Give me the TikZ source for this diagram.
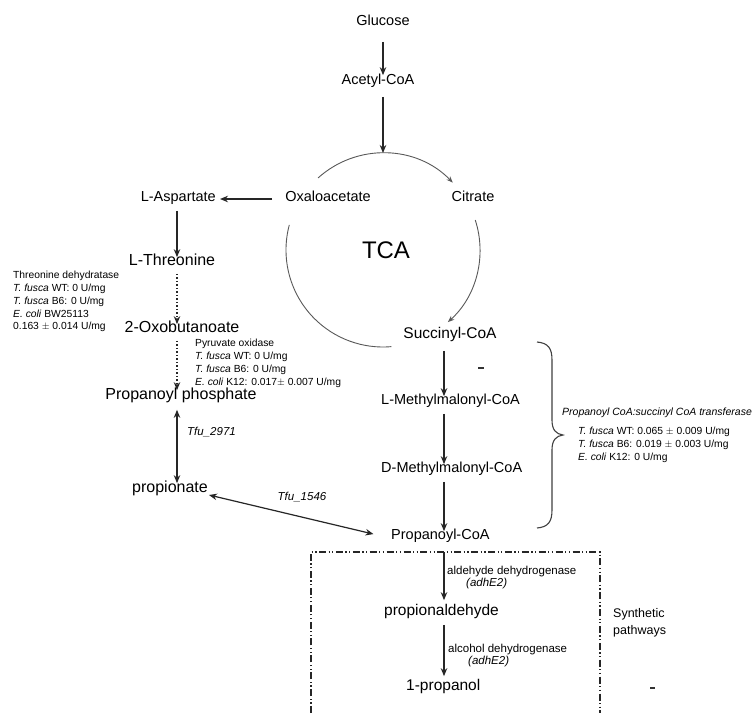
\documentclass[tikz,border=0pt]{standalone}
\usepackage{fontspec}
\setmainfont{Liberation Sans}
\usetikzlibrary{arrows.meta}
\begin{document}
\begin{tikzpicture}[x=1pt,y=1pt,
  lab/.style={inner sep=1pt, text=black, font=\fontsize{14.5}{16}\selectfont, text height=0.72em, text depth=0.21em},
  bigl/.style={lab, font=\fontsize{16}{18}\selectfont},
  enz/.style={inner sep=0pt, anchor=west, text=black, font=\fontsize{11.5}{12}\selectfont},
  tfu/.style={inner sep=0pt, text=black, font=\fontsize{11.5}{12}\selectfont\itshape},
  small/.style={inner sep=0pt, anchor=north west, align=left, text=black, font=\fontsize{10.3}{12.8}\selectfont},
  arr/.style={-{Stealth[length=8pt,width=6.5pt]}, line width=1.3pt, draw=black!85},
  darr/.style={{Stealth[length=8pt,width=6.5pt]}-{Stealth[length=8pt,width=6.5pt]}, line width=1.2pt, draw=black!85},
  dotarr/.style={-{Stealth[length=8pt,width=6.5pt]}, line width=1.3pt, draw=black!85, dash pattern=on 1.3pt off 2.2pt},
  circ/.style={line width=0.9pt, draw=black!65},
  boxline/.style={line width=1.2pt, draw=black!85, dash pattern=on 7pt off 2.5pt on 1.2pt off 2.5pt on 1.2pt off 2.5pt}
]
\useasboundingbox (0,-713) rectangle (755,0);
\fill[white] (0,-713) rectangle (755,0);

% column coordinates
\coordinate (L) at (177,0);
\coordinate (R) at (444,0);
\coordinate (cc) at (383,-250);
\coordinate (ctop) at (383,-153);

% main labels
\node[lab] (glc) at (383,-23) {Glucose};
\node[lab] (acoa) at (378,-82) {Acetyl-CoA};
\node[lab] (oaa) at (328,-199) {Oxaloacetate};
\node[lab] (cit) at (473,-199) {Citrate};
\node[lab, anchor=east] (asp) at (217,-199) {L-Aspartate};
\node[bigl] (thr) at (172,-263) {L-Threonine};
\node[bigl] (oxb) at (182,-330) {2-Oxobutanoate};
\node[bigl] (pph) at (181,-397) {Propanoyl phosphate};
\node[bigl] (pro) at (170,-490) {propionate};
\node[lab, font=\fontsize{15.5}{17}\selectfont] (suc) at (450,-336) {Succinyl-CoA};
\node[lab, anchor=west] (lmm) at (380,-402) {L-Methylmalonyl-CoA};
\node[lab, anchor=west] (dmm) at (380,-470) {D-Methylmalonyl-CoA};
\node[lab, anchor=west] (pcoa) at (390,-537) {Propanoyl-CoA};
\node[lab, anchor=west, font=\fontsize{15.5}{17}\selectfont] (pald) at (383,-613) {propionaldehyde};
\node[lab, anchor=west, font=\fontsize{15.5}{17}\selectfont] (pol) at (405,-688) {1-propanol};
\node[text=black, font=\fontsize{24}{26}\selectfont] (tca) at (386,-250) {TCA};

% TCA cycle arcs
\draw[circ, -{Stealth[length=6.5pt,width=5pt]}] ([shift={(132:97)}]cc) arc[start angle=132, end angle=44, radius=97];
\draw[circ, -{Stealth[length=6.5pt,width=5pt]}] ([shift={(18:97)}]cc) arc[start angle=18, end angle=-48, radius=97];
\draw[circ] ([shift={(165:97)}]cc) arc[start angle=165, end angle=275, radius=97];

% top arrows
\draw[arr, shorten <=13pt, shorten >=1pt] (glc.south) -- (glc.south |- acoa.north);
\draw[arr, shorten <=9pt] (acoa.south -| ctop) -- (ctop);
\draw[arr, shorten <=12pt, shorten >=3pt] (oaa.west) -- (asp.east);

% left column
\draw[arr, shorten <=6pt] (asp.south -| L) -- (thr.north -| L);
\draw[dotarr, shorten <=5pt] (thr.south -| L) -- (oxb.north -| L);
\draw[dotarr, shorten <=5pt, shorten >=1pt] (oxb.south -| L) -- (pph.north -| L);
\draw[darr, shorten <=7pt, shorten >=1pt] (pph.south -| L) -- (pro.north -| L);
\draw[darr, shorten >=17pt] ([yshift=-5pt]pro.east) -- ([yshift=-1pt]pcoa.west);

% right column
\draw[arr, shorten <=9pt] (suc.south -| R) -- (lmm.north -| R);
\draw[arr, shorten <=6pt] (lmm.south -| R) -- (dmm.north -| R);
\draw[arr, shorten <=6pt] (dmm.south -| R) -- (pcoa.north -| R);
\draw[arr, shorten <=9pt, shorten >=7pt] (pcoa.south -| R) -- (pald.north -| R);
\draw[arr, shorten <=6pt, shorten >=6pt] (pald.south -| R) -- (pol.north -| R);

% enzyme labels
\node[tfu, anchor=west] (t2971) at (187,-432) {Tfu\_2971};
\node[tfu] (t1546) at (302,-497) {Tfu\_1546};
\node[enz] (ald) at (447,-572) {aldehyde dehydrogenase};
\node[tfu, anchor=west] (ald2) at (466,-584) {(adhE2)};
\node[enz] (alc) at (448,-650) {alcohol dehydrogenase};
\node[tfu, anchor=west] (alc2) at (468,-662) {(adhE2)};

% annotation blocks
\node[small] (thrblk) at (13,-271) {Threonine dehydratase\\
\textit{T. fusca} WT: 0 U/mg\\
\textit{T. fusca} B6: 0 U/mg\\
\textit{E. coli} BW25113\\
0.163 $\pm$ 0.014 U/mg};

\node[small] (pyrblk) at (195,-339) {Pyruvate oxidase\\
\textit{T. fusca} WT: 0 U/mg\\
\textit{T. fusca} B6: 0 U/mg\\
\textit{E. coli} K12: 0.017$\pm$ 0.007 U/mg};

\node[small, font=\fontsize{10.5}{12}\selectfont\itshape] (trtitle) at (562,-408) {Propanoyl CoA:succinyl CoA transferase};
\node[small] (trblk) at (578,-427) {\textit{T. fusca} WT: 0.065 $\pm$ 0.009 U/mg\\
\textit{T. fusca} B6: 0.019 $\pm$ 0.003 U/mg\\
\textit{E. coli} K12: 0 U/mg};

% brace
\draw[line width=1.1pt, draw=black!75] (537,-342) .. controls (548,-343) and (552,-348) .. (552,-360) -- (552,-420) .. controls (552,-430) and (556,-434) .. (563,-435) .. controls (556,-436) and (552,-440) .. (552,-450) -- (552,-510) .. controls (552,-522) and (548,-527) .. (537,-528);

% synthetic pathways box
\draw[boxline] (311,-713) -- (311,-552) -- (600,-552) -- (600,-713);
\node[inner sep=0pt, anchor=west, align=left, text=black, font=\fontsize{12.5}{17}\selectfont] (syn) at (613,-622.5) {Synthetic\\pathways};

% stray marks
\draw[line width=2pt, draw=black!80] (478,-368) -- (484,-368);
\draw[line width=2pt, draw=black!80] (650,-688) -- (655,-688);
\end{tikzpicture}
\end{document}
